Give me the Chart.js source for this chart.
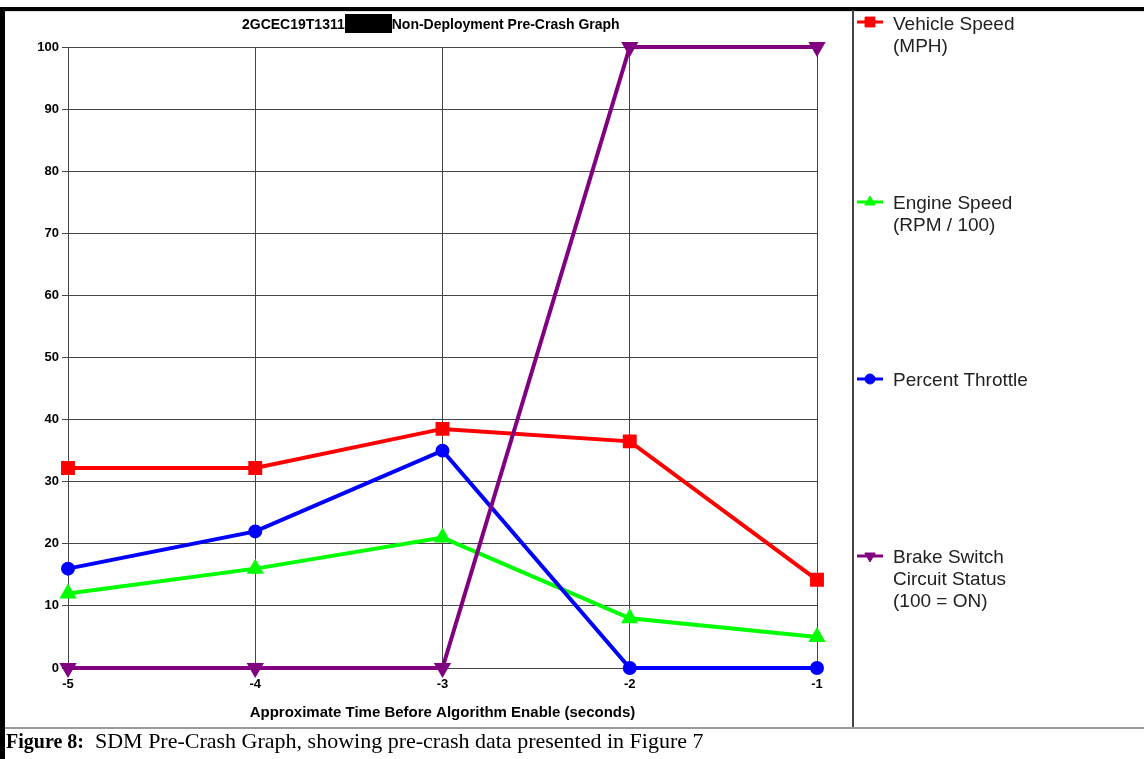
<!DOCTYPE html>
<html>
<head>
<meta charset="utf-8">
<script src="https://cdn.jsdelivr.net/npm/chart.js@4/dist/chart.umd.min.js"></script>
<style>
html, body { margin: 0; padding: 0; background: #fff; }
#wrap { position: relative; width: 1144px; height: 759px; overflow: hidden; font-family: "Liberation Sans", Arial, sans-serif; }
#chart { position: absolute; left: 0; top: 0; }
.bar { position: absolute; }
.title { position: absolute; top: 14px; left: 242px; font-weight: bold; font-size: 14px; line-height: 20px; white-space: nowrap; color: #000; }
.redact { display: inline-block; background: #000; width: 47px; height: 19px; vertical-align: top; }
.leg { position: absolute; left: 893px; font-size: 19px; line-height: 22px; color: #222; white-space: nowrap; }
.caption { position: absolute; left: 6px; top: 728px; font-family: "Liberation Serif", "Times New Roman", serif; font-size: 22px; line-height: 26px; color: #000; white-space: nowrap; }
.caption b { font-size: 20px; }
</style>
</head>
<body>
<div id="wrap">
  <canvas id="chart" width="1144" height="759"></canvas>
  <div class="bar" style="left:0;top:7px;width:1144px;height:4px;background:#000"></div>
  <div class="bar" style="left:0;top:11px;width:1144px;height:1px;background:#ddd"></div>
  <div class="bar" style="left:0;top:7px;width:5px;height:752px;background:#000"></div>
  <div class="bar" style="left:852px;top:10px;width:2px;height:718px;background:#444"></div>
  <div class="bar" style="left:5px;top:727px;width:1139px;height:2px;background:#999"></div>
  <div class="title">2GCEC19T1311<span class="redact"></span>Non-Deployment Pre-Crash Graph</div>
  <div class="leg" style="top:13px">Vehicle Speed<br>(MPH)</div>
  <div class="leg" style="top:192px">Engine Speed<br>(RPM / 100)</div>
  <div class="leg" style="top:369px">Percent Throttle</div>
  <div class="leg" style="top:546px">Brake Switch<br>Circuit Status<br>(100 = ON)</div>
  <div class="caption"><b>Figure 8:</b>&nbsp; SDM Pre-Crash Graph, showing pre-crash data presented in Figure 7</div>
</div>
<script>
const times = [-5, -4, -3, -2, -1];
const vehicleSpeed = [32.2, 32.2, 38.5, 36.5, 14.2];
const engineSpeed = [12, 16, 21, 8, 5];
const throttle = [16, 22, 35, 0, 0];
const brakeStatus = [0, 0, 0, 100, 100];
const legendY = [22, 202, 379, 556];

const pts = (vals) => vals.map((v, i) => ({ x: times[i], y: v }));

const legendMarks = {
  id: "legendMarks",
  afterDraw(chart) {
    const ctx = chart.ctx;
    chart.data.datasets.forEach((ds, i) => {
      const y = legendY[i];
      ctx.save();
      ctx.strokeStyle = ds.borderColor;
      ctx.lineWidth = 3;
      ctx.beginPath();
      ctx.moveTo(857, y);
      ctx.lineTo(883, y);
      ctx.stroke();
      ctx.fillStyle = ds.borderColor;
      ctx.strokeStyle = ds.borderColor;
      ctx.lineWidth = 1;
      Chart.helpers.drawPoint(ctx, {
        pointStyle: ds.pointStyle,
        rotation: ds.pointRotation || 0,
        radius: ds.pointRadius,
        borderWidth: 1
      }, 870, y);
      ctx.restore();
    });
  }
};

const tickFont = { family: "'Liberation Sans', Arial, sans-serif", size: 13, weight: "bold" };

new Chart(document.getElementById("chart"), {
  type: "line",
  data: {
    datasets: [
      {
        label: "Vehicle Speed (MPH)",
        data: pts(vehicleSpeed),
        borderColor: "#ff0000",
        backgroundColor: "#ff0000",
        pointStyle: "rect",
        pointRadius: 7,
        borderWidth: 4,
        order: 3,
        clip: false
      },
      {
        label: "Engine Speed (RPM / 100)",
        data: pts(engineSpeed),
        borderColor: "#00ff00",
        backgroundColor: "#00ff00",
        pointStyle: "triangle",
        pointRadius: 6,
        borderWidth: 4,
        order: 2,
        clip: false
      },
      {
        label: "Percent Throttle",
        data: pts(throttle),
        borderColor: "#0000ff",
        backgroundColor: "#0000ff",
        pointStyle: "circle",
        pointRadius: 5,
        borderWidth: 4,
        order: 1,
        clip: false
      },
      {
        label: "Brake Switch Circuit Status (100 = ON)",
        data: pts(brakeStatus),
        borderColor: "#800080",
        backgroundColor: "#800080",
        pointStyle: "triangle",
        pointRotation: 180,
        pointRadius: 6,
        borderWidth: 4,
        order: 0,
        clip: false
      }
    ]
  },
  options: {
    responsive: false,
    animation: false,
    layout: { padding: { left: 0, right: 327, top: 47, bottom: 31 } },
    plugins: { legend: { display: false }, tooltip: { enabled: false } },
    elements: { line: { tension: 0 }, point: { borderWidth: 1 } },
    scales: {
      x: {
        type: "linear",
        min: -5,
        max: -1,
        afterFit: (s) => { s.height = 60; },
        ticks: { stepSize: 1, color: "#000", font: tickFont, padding: 9 },
        grid: { color: "#444", lineWidth: 1, drawTicks: false },
        border: { color: "#444" },
        title: {
          display: true,
          text: "Approximate Time Before Algorithm Enable (seconds)",
          color: "#000",
          font: { family: "'Liberation Sans', Arial, sans-serif", size: 15, weight: "bold" },
          padding: { top: 0, bottom: 6 }
        }
      },
      y: {
        min: 0,
        max: 100,
        afterFit: (s) => { s.width = 68; },
        ticks: { stepSize: 10, color: "#000", font: tickFont, padding: 3 },
        grid: { color: "#444", lineWidth: 1, tickLength: 6 },
        border: { color: "#444" }
      }
    }
  },
  plugins: [legendMarks]
});
</script>
</body>
</html>
